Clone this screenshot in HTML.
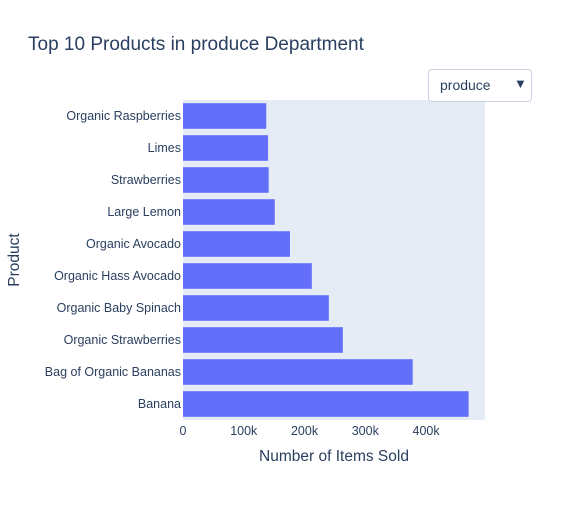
<!DOCTYPE html>
<html><head><meta charset="utf-8"><style>
body{margin:0;background:#fff;font-family:"Liberation Sans",sans-serif;}
#wrap{position:relative;width:565px;height:500px;}
.dd{position:absolute;left:428px;top:69px;width:104px;height:33px;border:1px solid #c8d4e3;border-radius:4px;background:#fff;box-sizing:border-box;font-size:14px;color:#2a3f5f;}
</style></head><body>
<div id="wrap">
<svg id="chart" width="565" height="500"></svg>
<div class="dd"><span style="position:absolute;left:11px;top:7px">produce</span><span style="position:absolute;left:85px;top:6px;font-size:13px">▼</span></div>
</div>
<script>
const categories=["Banana","Bag of Organic Bananas","Organic Strawberries","Organic Baby Spinach","Organic Hass Avocado","Organic Avocado","Large Lemon","Strawberries","Limes","Organic Raspberries"];
const values=[470000,378000,263000,240000,212000,176000,151000,141000,140000,137000];
const tickValues=[0,100000,200000,300000,400000];
const tickLabels=["0","100k","200k","300k","400k"];
const NS="http://www.w3.org/2000/svg";
const svg=document.getElementById('chart');
const L=183,R=485,T=100,B=420,xMax=497000;
const x=v=>L+(v/xMax)*(R-L);
const band=(B-T)/categories.length;
const y=i=>B-(i+1)*band;
function mk(t,a,txt){const e=document.createElementNS(NS,t);for(const k in a)e.setAttribute(k,a[k]);if(txt!=null)e.textContent=txt;svg.appendChild(e);return e;}
let e;
e=mk('rect',{x:L,y:T,width:R-L,height:B-T,fill:'#e5ecf6'});


tickValues.forEach((v,i)=>{
 e=mk('text',{x:x(v),y:B+15,'text-anchor':'middle','font-size':12.5,fill:'#2a3f5f'},tickLabels[i]);
 
 
});
categories.forEach((c,i)=>{
 e=mk('rect',{x:L,y:y(i)+band*0.1,width:x(values[i])-L,height:band*0.8,fill:'#636efa'});
 
 
 e=mk('text',{x:L-2,y:y(i)+band/2+4,'text-anchor':'end','font-size':12.5,fill:'#2a3f5f'},c);
 
 
});
e=mk('text',{x:28,y:50,'font-size':19,fill:'#2a3f5f'},'Top 10 Products in produce Department');


e=mk('text',{x:334,y:461,'text-anchor':'middle','font-size':15.5,fill:'#2a3f5f'},'Number of Items Sold');


e=mk('text',{x:19,y:260,'text-anchor':'middle','font-size':15.5,fill:'#2a3f5f',transform:'rotate(-90 19 260)'},'Product');


</script>
</body></html>
